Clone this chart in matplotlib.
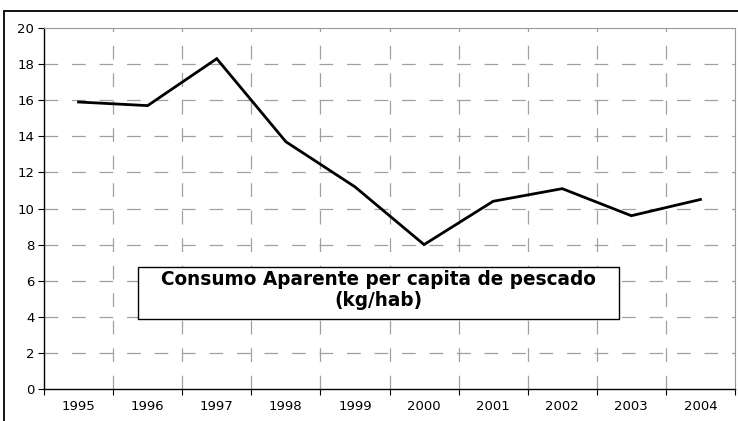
import numpy as np
import matplotlib.pyplot as plt
from matplotlib.patches import Rectangle

plt.rcParams['font.family'] = ['DejaVu Sans']

# Apparent per capita fish consumption (kg/hab)
years = ['1995', '1996', '1997', '1998', '1999', '2000', '2001', '2002', '2003', '2004']
consumo = [15.9, 15.7, 18.3, 13.7, 11.2, 8.0, 10.4, 11.1, 9.6, 10.5]

W, H = 738, 421
fig = plt.figure(figsize=(W/100, H/100), dpi=100)
ax = fig.add_axes([44/W, 1-389/H, (735-44)/W, (389-28)/H])

x = np.arange(len(years)) + 0.5
ax.plot(x, consumo, color='black', lw=2.0, zorder=3, solid_joinstyle='miter')

ax.set_xlim(0, len(years))
ax.set_ylim(0, 20)
ax.set_yticks(np.arange(0, 21, 2))
ax.set_xticks(np.arange(0, len(years)+1))
ax.set_xticklabels([])
ax.set_xticks(x, minor=True)
ax.set_xticklabels(years, minor=True)
ax.tick_params(axis='x', which='minor', length=0, pad=8, labelsize=9.5)
ax.tick_params(axis='x', which='major', length=4, width=0.8, direction='out')
ax.tick_params(axis='y', length=4, width=0.8, direction='out', labelsize=9.5, pad=3)

# dashed grey grid
dash = (0, (11, 11))
for yy in np.arange(2, 20, 2):
    ax.axhline(yy, color='#a0a0a0', lw=0.9, ls=dash, zorder=1)
for xx in range(1, len(years)):
    ax.axvline(xx, color='#a0a0a0', lw=0.9, ls=dash, zorder=1)

for s in ['top', 'right']:
    ax.spines[s].set_color('#999999')
for s in ['left', 'bottom']:
    ax.spines[s].set_color('black')
    ax.spines[s].set_linewidth(1.0)

# caption box inside the plot area
x0, x1 = (138-44)/691, (619-44)/691
y0, y1 = (389-319)/361, (389-267)/361
ax.add_patch(Rectangle((x0, y0), x1-x0, y1-y0, transform=ax.transAxes,
                       facecolor='white', edgecolor='black', lw=1.0, zorder=4))
cap = ax.text((x0+x1)/2, y0+(y1-y0)*0.56, 'Consumo Aparente per capita de pescado\n(kg/hab)',
              transform=ax.transAxes, ha='center', va='center', fontsize=12,
              fontweight='bold', linespacing=1.15, zorder=5)

# size the caption so the long line spans ~435 px
fig.canvas.draw()
probe = ax.text(0, 0, 'Consumo Aparente per capita de pescado', fontsize=12,
                fontweight='bold', transform=ax.transAxes)
wpx = probe.get_window_extent(fig.canvas.get_renderer()).width
probe.remove()
cap.set_fontsize(12 * 435 / wpx)

# outer chart frame
fig.add_artist(Rectangle((4/W, -0.1), 1.2, 1-11/H+0.1, transform=fig.transFigure,
                         fill=False, edgecolor='black', lw=1.3))

fig.savefig('out.png', dpi=100)
